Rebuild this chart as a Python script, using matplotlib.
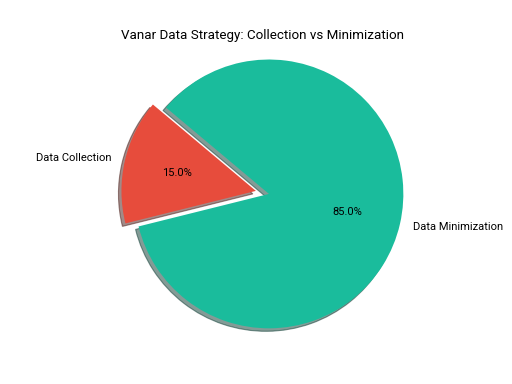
import matplotlib.pyplot as plt

plt.rcParams['font.family'] = ['Roboto', 'DejaVu Sans']

labels = ['Data Collection', 'Data Minimization']
sizes = [15, 85]
colors = ['#e74c3c', '#1abc9c']
explode = (0.1, 0)

fig, ax = plt.subplots(figsize=(6.4, 4.8), dpi=80)
ax.pie(sizes, explode=explode, labels=labels, colors=colors,
       autopct='%1.1f%%', shadow=True, startangle=140)
ax.axis('equal')
ax.set_title('Vanar Data Strategy: Collection vs Minimization')

fig.savefig('out.png')
